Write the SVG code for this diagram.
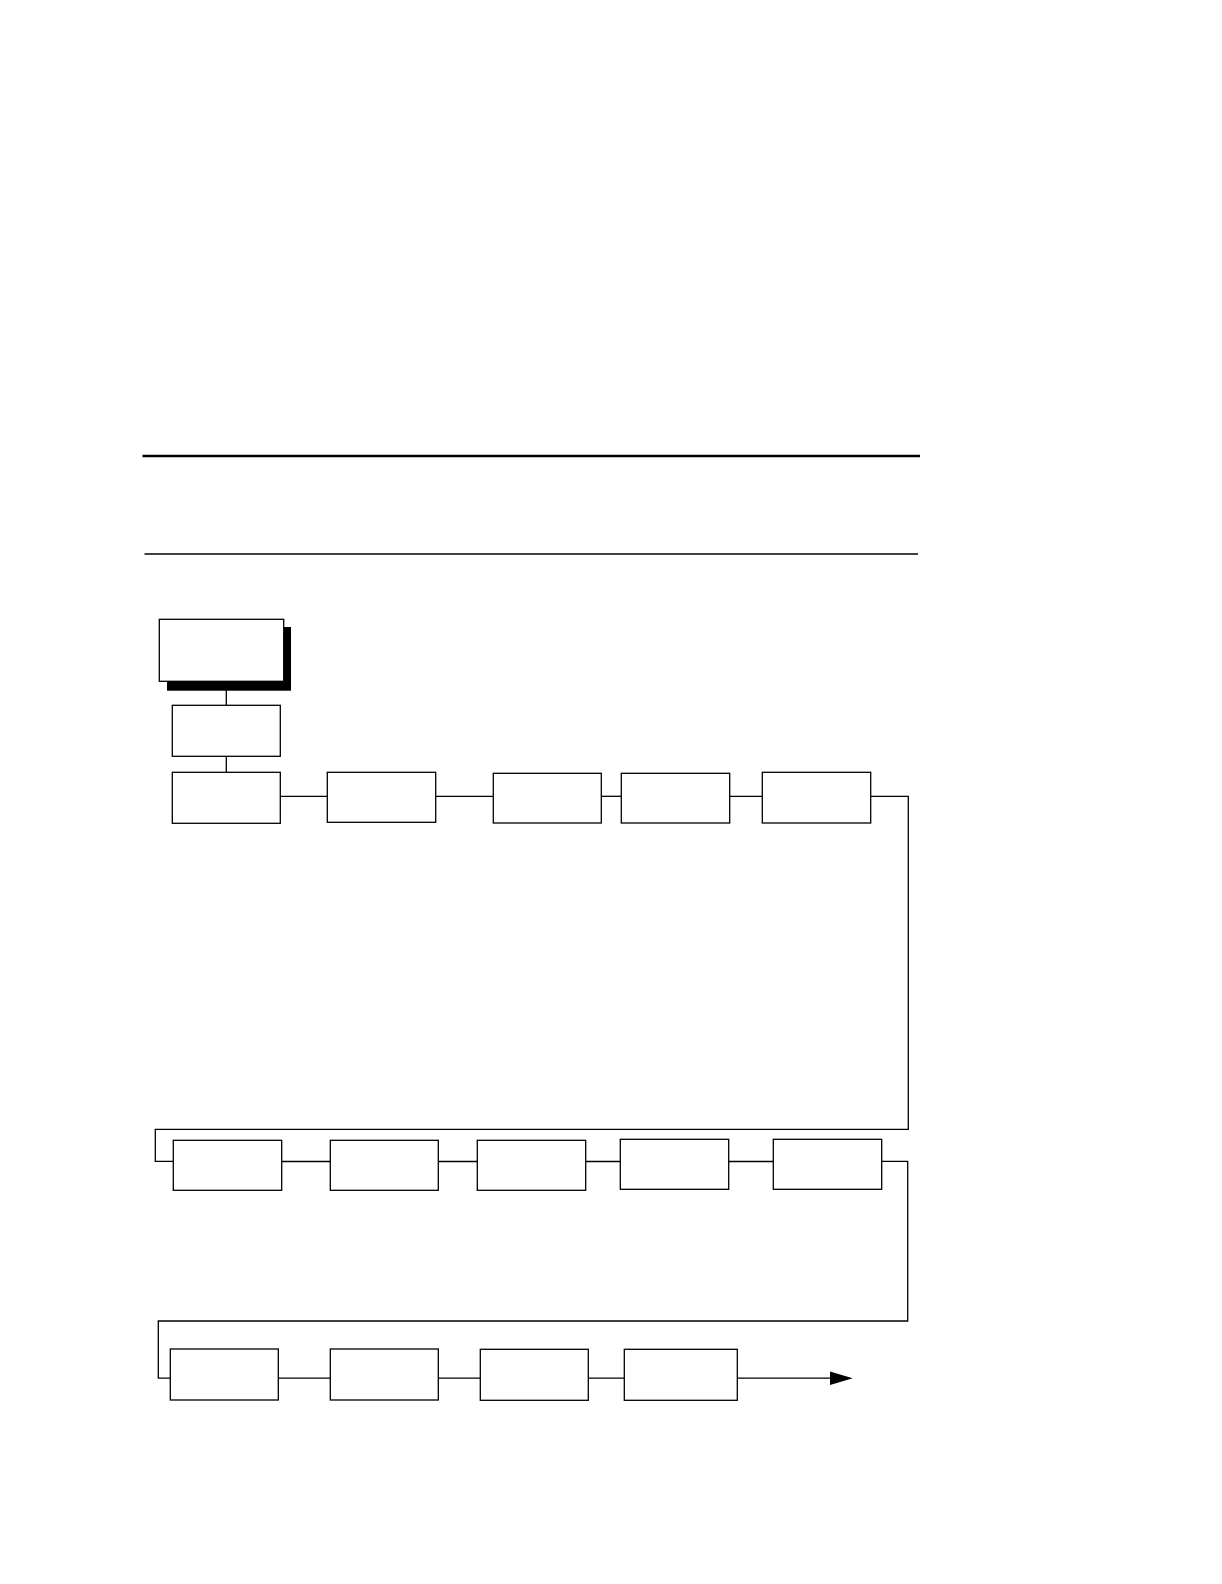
<svg xmlns="http://www.w3.org/2000/svg" width="1222" height="1584" viewBox="0 0 1222 1584">
<style>
.box{fill:#fff;stroke:#000;stroke-width:1.3}
.ln{fill:none;stroke:#000;stroke-width:1.3}
</style>
<rect width="1222" height="1584" fill="#fff"/>
<g id="rules">
<line x1="142.5" y1="456" x2="920" y2="456" stroke="#000" stroke-width="2.5"/>
<line x1="144.5" y1="554" x2="918" y2="554" stroke="#000" stroke-width="1.3"/>
</g>
<g id="connectors">
<line class="ln" x1="226.3" y1="682" x2="226.3" y2="705.3"/>
<line class="ln" x1="226.3" y1="756.3" x2="226.3" y2="772.3"/>
<line class="ln" x1="280.3" y1="796.3" x2="327.3" y2="796.3"/>
<line class="ln" x1="435.7" y1="796.3" x2="493.3" y2="796.3"/>
<line class="ln" x1="601.3" y1="796.3" x2="621.3" y2="796.3"/>
<line class="ln" x1="729.7" y1="796.3" x2="762.3" y2="796.3"/>
<path class="ln" d="M870.7 796.3H908.3V1129.3H155.3V1161.3H173.3"/>
<line class="ln" x1="281.7" y1="1161.5" x2="330.3" y2="1161.5"/>
<line class="ln" x1="438.3" y1="1161.5" x2="477.3" y2="1161.5"/>
<line class="ln" x1="585.7" y1="1161.5" x2="620.3" y2="1161.5"/>
<line class="ln" x1="728.7" y1="1161.5" x2="773.3" y2="1161.5"/>
<path class="ln" d="M881.7 1161.3H907.7V1321H158.3V1378.2H170.3"/>
<line class="ln" x1="278.3" y1="1378.2" x2="330.3" y2="1378.2"/>
<line class="ln" x1="438.3" y1="1378.2" x2="480.3" y2="1378.2"/>
<line class="ln" x1="588.3" y1="1378.2" x2="624.3" y2="1378.2"/>
<line class="ln" x1="737.3" y1="1378.2" x2="831" y2="1378.2"/>
<polygon points="830,1371.5 852.7,1378.2 830,1384.9" fill="#000"/>
</g>
<g id="n0">
<rect x="167" y="627" width="124" height="63.7" fill="#000"/>
<rect class="box" x="159.3" y="619.3" width="124.4" height="62"/>
</g>
<g id="n1"><rect class="box" x="172.3" y="705.3" width="108" height="51"/></g>
<g id="n2"><rect class="box" x="172.3" y="772.3" width="108" height="51"/></g>
<g id="n3"><rect class="box" x="327.3" y="772.3" width="108.4" height="50"/></g>
<g id="n4"><rect class="box" x="493.3" y="773.3" width="108" height="49.7"/></g>
<g id="n5"><rect class="box" x="621.3" y="773.3" width="108.4" height="49.7"/></g>
<g id="n6"><rect class="box" x="762.3" y="772.3" width="108.4" height="50.7"/></g>
<g id="n7"><rect class="box" x="173.3" y="1140.3" width="108.4" height="50"/></g>
<g id="n8"><rect class="box" x="330.3" y="1140.3" width="108" height="50"/></g>
<g id="n9"><rect class="box" x="477.3" y="1140.3" width="108.4" height="50"/></g>
<g id="n10"><rect class="box" x="620.3" y="1139.3" width="108.4" height="50"/></g>
<g id="n11"><rect class="box" x="773.3" y="1139.3" width="108.4" height="50"/></g>
<g id="n12"><rect class="box" x="170.3" y="1349" width="108" height="51"/></g>
<g id="n13"><rect class="box" x="330.3" y="1349" width="108" height="51"/></g>
<g id="n14"><rect class="box" x="480.3" y="1349.3" width="108" height="51"/></g>
<g id="n15"><rect class="box" x="624.3" y="1349.3" width="113" height="51"/></g>
</svg>
